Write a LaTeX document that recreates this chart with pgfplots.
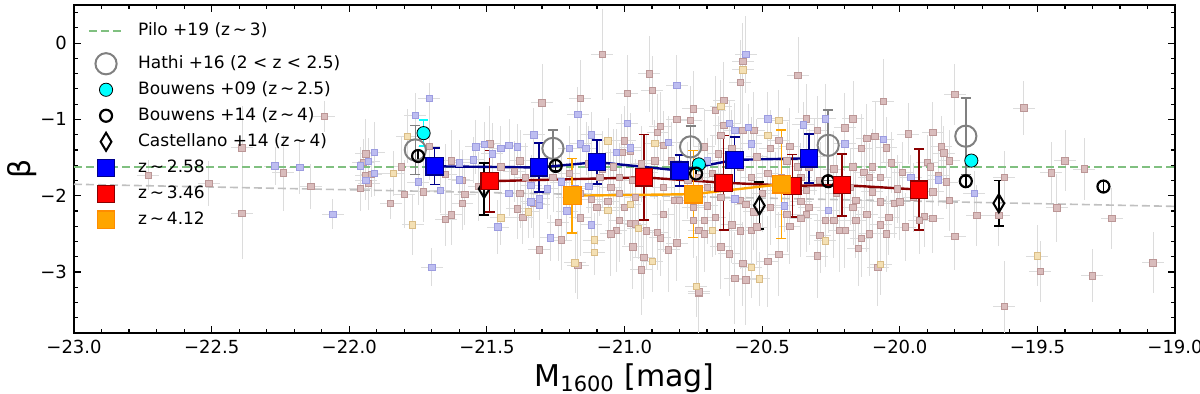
\documentclass[border=0pt]{standalone}
\usepackage{fontspec}
\setmainfont{DejaVu Sans}
\usepackage{pgfplots}
\usepackage{pgfplotstable}
\pgfplotsset{compat=1.18}

\definecolor{sblue}{HTML}{BDBDF0}
\definecolor{sblueedge}{HTML}{9C9CE0}
\definecolor{srose}{HTML}{D9BCBC}
\definecolor{sroseedge}{HTML}{BB9696}
\definecolor{stan}{HTML}{F4E0B4}
\definecolor{stanedge}{HTML}{D9BC86}
\definecolor{errgray}{HTML}{DCDCDC}
\definecolor{pilogreen}{HTML}{80C080}
\definecolor{fitgray}{HTML}{C0C0C0}
\definecolor{binblue}{HTML}{0000FF}
\definecolor{binnavy}{HTML}{00008B}
\definecolor{binred}{HTML}{FF0000}
\definecolor{bindarkred}{HTML}{8B0000}
\definecolor{binorange}{HTML}{FFA500}
\definecolor{bindarkorange}{HTML}{FF8C00}
\definecolor{hathigray}{HTML}{808080}
\definecolor{bcyan}{HTML}{00FFFF}

\pgfplotsset{
  legmark/.style={legend image code/.code={\path[draw=none, fill=none] (0cm,-5.5pt) rectangle (0.6cm,5.5pt); \draw[##1] plot coordinates {(0.3cm,0cm)};}},
  legline/.style={legend image code/.code={\path[draw=none, fill=none] (0cm,-9pt) rectangle (0.6cm,5.5pt); \draw[##1] (0cm,0cm) -- (0.6cm,0cm);}},
  scat/.style={only marks, mark=square*, mark size=1.6pt, forget plot,
    error bars/y dir=both, error bars/y explicit, error bars/x dir=both, error bars/x fixed=0.04,
    error bars/error mark=none, error bars/error bar style={color=errgray, line width=0.4pt}},
}

% background galaxies: M1600, beta, error
\pgfplotstableread{
M b e
-22.27 -1.61 0.25
-22.18 -1.63 0.35
-22.06 -2.24 0.20
-21.96 -1.61 0.25
-21.91 -1.43 0.40
-21.93 -1.55 0.30
-21.94 -1.80 0.25
-21.91 -1.71 0.30
-21.71 -0.72 0.20
-21.76 -0.95 0.30
-21.75 -1.82 0.30
-21.67 -1.93 0.30
-21.70 -2.94 0.25
-21.60 -1.57 0.30
-21.60 -1.79 0.35
-21.55 -1.53 0.30
-21.54 -1.36 0.35
-21.51 -1.33 0.30
-21.48 -1.45 0.40
-21.45 -1.38 0.30
-21.42 -1.34 0.35
-21.39 -1.36 0.30
-21.42 -1.97 0.30
-21.46 -2.41 0.35
-21.34 -1.86 0.40
-21.34 -2.08 0.35
-21.31 -2.12 0.30
-21.31 -2.04 0.35
-21.33 -1.20 0.35
-21.28 -1.91 0.40
-21.27 -2.55 0.30
-21.21 -2.20 0.40
-21.23 -1.82 0.35
-21.20 -1.38 0.30
-21.17 -0.93 0.35
-21.18 -1.91 0.40
-21.16 -1.32 0.30
-21.14 -1.38 0.35
-21.12 -1.20 0.30
-21.13 -1.88 0.35
-21.12 -2.38 0.40
-21.03 -1.43 0.30
-20.99 -1.05 0.35
-20.98 -1.37 0.30
-20.84 -1.30 0.35
-20.81 -0.55 0.40
-20.56 -0.15 0.50
-20.62 -1.05 0.30
-20.60 -1.14 0.35
-20.55 -1.10 0.30
-20.48 -0.99 0.35
-20.35 -1.07 0.30
-20.27 -0.99 0.45
-20.06 -1.26 0.30
-20.20 -1.32 0.35
-19.96 -1.76 0.30
-19.86 -1.79 0.30
-19.73 -1.97 0.30
-20.60 -2.04 0.35
-20.42 -2.13 0.35
-20.26 -2.19 0.30
-20.70 -1.54 0.30
-20.54 -1.32 0.35
}\scatblue

\pgfplotstableread{
M b e
-21.84 -1.71 0.30
-21.79 -1.22 0.35
-21.77 -2.38 0.40
-21.45 -2.29 0.35
-21.35 -2.21 0.35
-21.18 -2.88 0.40
-21.11 -2.58 0.35
-21.11 -2.74 0.30
-21.06 -1.28 0.30
-21.06 -2.19 0.35
-20.98 -2.11 0.35
-20.95 -2.43 0.40
-20.90 -2.86 0.40
-20.89 -1.31 0.30
-20.74 -3.19 0.40
-20.57 -0.35 0.40
-20.65 -0.83 0.35
-20.44 -1.01 0.40
-20.48 -1.21 0.35
-20.07 -2.90 0.40
-20.27 -2.59 0.35
-20.54 -2.94 0.40
-20.51 -3.09 0.35
-20.68 -2.45 0.35
-19.50 -2.79 0.40
}\scattan

\pgfplotstableread{
M b e
-22.73 -1.73 0.20
-22.51 -1.84 0.30
-22.39 -1.37 0.55
-22.39 -2.23 0.60
-22.24 -1.70 0.50
-22.14 -1.88 0.30
-22.09 -0.96 0.20
-21.95 -1.56 0.30
-21.94 -1.45 0.45
-21.94 -1.73 0.30
-21.92 -1.72 0.30
-21.93 -1.84 0.35
-21.96 -1.90 0.30
-21.85 -2.10 0.20
-21.81 -1.62 0.40
-21.80 -1.98 0.45
-21.73 -1.95 0.40
-21.71 -1.35 0.45
-21.65 -1.72 0.40
-21.65 -2.31 0.35
-21.63 -2.25 0.40
-21.59 -2.10 0.35
-21.58 -1.98 0.40
-21.53 -1.88 0.45
-21.49 -1.32 0.50
-21.40 -1.68 0.40
-21.38 -1.97 0.45
-21.39 -2.17 0.40
-21.37 -2.28 0.35
-21.33 -2.10 0.45
-21.30 -0.78 0.50
-21.31 -2.71 0.40
-21.24 -2.35 0.50
-21.23 -2.58 0.40
-21.20 -1.71 0.45
-21.16 -0.72 0.50
-21.17 -2.91 0.45
-21.16 -2.29 0.50
-21.13 -1.58 0.50
-21.12 -2.05 0.50
-21.08 -0.15 0.60
-21.08 -1.65 0.50
-21.06 -2.07 0.50
-21.03 -2.45 0.55
-21.01 -1.43 0.50
-21.00 -1.28 0.45
-20.99 -0.66 0.50
-20.98 -1.41 0.50
-20.98 -2.36 0.50
-20.96 -2.37 0.45
-20.94 -2.97 0.60
-20.93 -2.81 0.55
-20.92 -2.46 0.50
-20.91 -0.40 0.50
-20.90 -0.62 0.45
-20.88 -1.17 0.50
-20.87 -1.09 0.45
-20.87 -2.55 0.50
-20.88 -2.48 0.50
-20.86 -1.34 0.45
-20.81 -1.00 0.50
-20.84 -2.71 0.55
-20.81 -2.62 0.50
-20.76 -1.01 0.45
-20.75 -0.86 0.50
-20.73 -3.28 0.60
-20.73 -2.45 0.50
-20.71 -2.50 0.50
-20.57 -0.24 0.50
-20.58 -0.51 0.55
-20.37 -0.42 0.50
-20.64 -0.75 0.50
-20.67 -0.88 0.45
-20.64 -1.08 0.50
-20.57 -1.14 0.45
-20.53 -1.14 0.50
-20.34 -0.99 0.45
-20.40 -1.35 0.50
-20.30 -1.14 0.45
-20.20 -1.11 0.45
-20.17 -0.99 0.50
-20.06 -0.76 0.55
-20.12 -1.25 0.45
-20.09 -1.22 0.45
-20.05 -1.37 0.40
-20.14 -1.38 0.45
-19.97 -1.19 0.40
-19.88 -1.17 0.40
-19.85 -1.36 0.40
-19.84 -1.44 0.35
-19.80 -0.67 0.40
-19.55 -0.85 0.35
-19.90 -1.56 0.35
-20.03 -1.57 0.40
-19.99 -1.69 0.40
-19.86 -1.73 0.40
-19.83 -1.82 0.35
-19.82 -2.06 0.40
-19.88 -1.95 0.40
-19.72 -2.26 0.40
-19.80 -2.53 0.45
-19.62 -1.76 0.35
-19.62 -3.45 0.60
-19.88 -2.30 0.45
-19.91 -2.27 0.40
-19.98 -2.41 0.45
-20.04 -2.28 0.50
-20.07 -2.38 0.50
-20.07 -2.08 0.50
-20.02 -2.10 0.45
-20.00 -2.08 0.50
-20.10 -1.95 0.50
-20.13 -1.69 0.50
-20.11 -1.76 0.45
-20.08 -2.94 0.50
-20.05 -2.50 0.50
-20.14 -2.56 0.50
-20.15 -2.69 0.50
-20.17 -2.15 0.50
-20.16 -2.06 0.50
-20.20 -2.45 0.50
-20.22 -2.45 0.55
-20.24 -2.32 0.50
-20.27 -2.32 0.50
-20.29 -2.52 0.50
-20.30 -2.79 0.55
-20.33 -2.15 0.50
-20.34 -2.24 0.50
-20.36 -2.30 0.50
-20.40 -2.40 0.50
-20.41 -2.24 0.50
-20.44 -2.77 0.55
-20.48 -2.86 0.60
-20.54 -2.45 0.50
-20.53 -2.21 0.50
-20.56 -3.10 0.60
-20.60 -3.08 0.60
-20.57 -2.89 0.55
-20.58 -2.46 0.50
-20.61 -2.38 0.50
-20.67 -2.28 0.50
-20.70 -2.13 0.50
-20.65 -2.02 0.50
-20.58 -2.06 0.50
-20.56 -2.11 0.50
-20.36 -2.07 0.50
-20.45 -1.93 0.50
-20.48 -1.71 0.50
-20.54 -1.76 0.50
-20.68 -1.71 0.50
-20.70 -1.89 0.50
-20.66 -1.45 0.50
-20.61 -1.38 0.50
-20.47 -1.38 0.50
-20.44 -1.27 0.50
-20.41 -1.54 0.50
-20.33 -1.62 0.50
-20.31 -1.49 0.50
-20.17 -1.62 0.50
-20.10 -1.62 0.50
-20.07 -1.76 0.50
-20.73 -3.26 0.60
-21.04 -1.62 0.50
-21.02 -1.76 0.45
-20.97 -1.80 0.50
-20.92 -1.69 0.50
-20.86 -1.89 0.45
-20.82 -2.06 0.50
-20.77 -1.80 0.50
-20.73 -1.76 0.45
-20.96 -2.02 0.50
-21.00 -2.15 0.50
-20.86 -2.24 0.50
-20.75 -2.15 0.50
-20.71 -1.36 0.50
-20.65 -1.21 0.45
-20.58 -1.62 0.50
-20.52 -1.49 0.50
-20.50 -1.97 0.50
-20.47 -2.15 0.50
-20.43 -1.76 0.50
-20.37 -1.62 0.50
-20.36 -1.76 0.45
-20.34 -1.93 0.50
-20.29 -1.80 0.50
-20.24 -1.65 0.50
-20.23 -1.97 0.50
-20.18 -1.89 0.50
-20.16 -2.32 0.50
-20.12 -2.24 0.50
-20.11 -2.50 0.55
-20.01 -1.91 0.45
-19.95 -2.02 0.45
-19.93 -2.32 0.45
-19.89 -1.62 0.40
-19.82 -1.54 0.40
-20.52 -2.41 0.50
-20.65 -2.67 0.55
-20.62 -2.76 0.55
-20.71 -2.32 0.50
-21.09 -1.76 0.50
-21.05 -1.89 0.50
-21.02 -1.97 0.50
-21.10 -2.15 0.50
-21.16 -1.97 0.45
-21.21 -2.02 0.45
-21.26 -1.76 0.45
-21.36 -1.76 0.45
-21.38 -1.54 0.40
-21.45 -1.62 0.40
-21.59 -1.80 0.40
-21.63 -1.54 0.40
-20.94 -1.58 0.50
-20.89 -1.54 0.50
-20.83 -1.54 0.50
-20.80 -2.06 0.50
-20.75 -2.32 0.50
-21.02 -2.32 0.55
-21.05 -2.50 0.55
-20.97 -2.67 0.55
-19.40 -1.54 0.40
-19.45 -1.70 0.40
-19.33 -1.65 0.40
-19.43 -2.16 0.45
-19.23 -2.30 0.40
-19.49 -2.99 0.40
-19.30 -3.05 0.35
-19.08 -2.88 0.40
-19.64 -2.26 0.40
}\scatrose

\begin{document}
\begin{tikzpicture}
\begin{axis}[
  scale only axis,
  width=550.5pt, height=164pt,
  xmin=-23, xmax=-19, ymin=-3.8, ymax=0.5,
  xtick={-23,-22.5,...,-19},
  xticklabels={−23.0,−22.5,−22.0,−21.5,−21.0,−20.5,−20.0,−19.5,−19.0},
  minor x tick num=4,
  ytick={0,-1,-2,-3},
  yticklabels={0,−1,−2,−3},
  minor ytick={-3.8,-3.6,...,0.41},
  tick align=inside,
  major tick length=3.5pt, minor tick length=2pt,
  tick style={black, line width=0.6pt},
  axis line style={line width=0.8pt},
  tick label style={font=\fontsize{9}{10}\selectfont},
  xlabel={M\textsubscript{1600} [mag]},
  ylabel={β},
  xlabel style={font=\fontsize{15}{17}\selectfont, at={(axis description cs:0.5,-0.137)}, anchor=center},
  ylabel style={font=\fontsize{15}{17}\selectfont, at={(axis description cs:-0.047,0.5)}, anchor=center},
  legend style={draw=none, fill=none, inner sep=0pt, outer sep=0pt,
    at={(axis description cs:0.0127,0.955)}, anchor=north west,
    font=\fontsize{8.5}{10}\selectfont, row sep=2pt, column sep=7pt,
    nodes={inner sep=0pt}},
  legend cell align=left,
]
% background galaxies
\addplot[scat, mark options={fill=srose, draw=sroseedge, line width=0.3pt}] table[x=M, y=b, y error=e] {\scatrose};
\addplot[scat, mark options={fill=sblue, draw=sblueedge, line width=0.3pt}] table[x=M, y=b, y error=e] {\scatblue};
\addplot[scat, mark options={fill=stan, draw=stanedge, line width=0.3pt}] table[x=M, y=b, y error=e] {\scattan};

% unlabelled fit
\addplot[forget plot, color=fitgray, line width=0.8pt, dash pattern=on 4pt off 2pt] coordinates {(-23,-1.85) (-19,-2.14)};

\addplot[legline, color=pilogreen, line width=1pt, dash pattern=on 4pt off 2pt] coordinates {(-23,-1.63) (-19,-1.63)};
\addlegendentry{Pilo +19 (z\,∼\,3)}

\addplot[legmark, only marks, color=hathigray, mark=o, mark size=5.3pt, mark options={line width=1pt},
  error bars/.cd, y dir=both, y explicit, error bar style={color=hathigray, line width=0.8pt},
  error mark options={rotate=90, color=hathigray, mark size=2.5pt, line width=0.8pt}]
  table[x=M, y=b, y error=e] {
M b e
-21.76 -1.40 0.32
-21.26 -1.38 0.24
-20.76 -1.36 0.27
-20.26 -1.34 0.46
-19.76 -1.22 0.50
};
\addlegendentry{Hathi +16 (2 < z < 2.5)}

\addplot[legmark, only marks, color=black, mark=*, mark size=3.3pt, mark options={fill=bcyan, draw=black, line width=0.4pt},
  error bars/.cd, y dir=both, y explicit, error bar style={color=bcyan, line width=0.8pt},
  error mark options={rotate=90, color=bcyan, mark size=2.2pt, line width=0.8pt}]
  table[x=M, y=b, y error=e] {
M b e
-21.73 -1.18 0.17
-20.73 -1.59 0.0
-19.74 -1.54 0.0
};
\addlegendentry{Bouwens +09 (z\,∼\,2.5)}

\addplot[legmark, only marks, color=black, mark=o, mark size=3pt, mark options={line width=1.1pt},
  error bars/.cd, y dir=both, y explicit, error bar style={color=black, line width=0.8pt},
  error mark options={rotate=90, color=black, mark size=1.5pt, line width=0.8pt}]
  table[x=M, y=b, y error=e] {
M b e
-21.75 -1.48 0.07
-21.25 -1.61 0.07
-20.74 -1.71 0.07
-20.26 -1.81 0.07
-19.76 -1.81 0.07
-19.26 -1.88 0.07
};
\addlegendentry{Bouwens +14 (z\,∼\,4)}

\addplot[legmark, only marks, color=black, mark=diamond, mark size=4.5pt, mark options={xscale=0.8, line width=1pt},
  error bars/.cd, y dir=both, y explicit, error bar style={color=black, line width=0.8pt},
  error mark options={rotate=90, color=black, mark size=2.5pt, line width=0.8pt}]
  table[x=M, y=b, y error=e] {
M b e
-21.51 -1.91 0.34
-20.51 -2.13 0.31
-19.64 -2.10 0.30
};
\addlegendentry{Castellano +14 (z\,∼\,4)}

\addplot[legmark, color=binnavy, line width=1.2pt, mark=square*, mark size=4.3pt,
  mark options={fill=binblue, draw=binnavy, line width=0.6pt},
  error bars/.cd, y dir=both, y explicit, error bar style={color=binnavy, line width=0.8pt},
  error mark options={rotate=90, color=binnavy, mark size=2.5pt, line width=0.8pt}]
  table[x=M, y=b, y error=e] {
M b e
-21.69 -1.615 0.24
-21.31 -1.63 0.32
-21.10 -1.56 0.29
-20.80 -1.67 0.20
-20.60 -1.53 0.30
-20.33 -1.51 0.32
};
\addlegendentry{z\,∼\,2.58}

\addplot[legmark, color=bindarkred, line width=1.2pt, mark=square*, mark size=4.3pt,
  mark options={fill=binred, draw=bindarkred, line width=0.6pt},
  error bars/.cd, y dir=both, y explicit, error bar style={color=bindarkred, line width=0.8pt},
  error mark options={rotate=90, color=bindarkred, mark size=2.5pt, line width=0.8pt}]
  table[x=M, y=b, y error=e] {
M b e
-21.49 -1.81 0.40
-20.93 -1.76 0.56
-20.64 -1.83 0.62
-20.39 -1.87 0.41
-20.21 -1.86 0.41
-19.93 -1.92 0.53
};
\addlegendentry{z\,∼\,3.46}

\addplot[legmark, color=binorange, line width=1.2pt, mark=square*, mark size=4.4pt,
  mark options={fill=binorange, draw=bindarkorange, line width=0.6pt},
  error bars/.cd, y dir=both, y explicit, error bar style={color=binorange, line width=0.8pt},
  error mark options={rotate=90, color=binorange, mark size=2.5pt, line width=0.8pt}]
  table[x=M, y=b, y error=e] {
M b e
-21.19 -2.00 0.49
-20.75 -1.98 0.57
-20.43 -1.85 0.71
};
\addlegendentry{z\,∼\,4.12}
\end{axis}
\pgfresetboundingbox
\path[use as bounding box] ([shift={(-37pt,-30.5pt)}]current axis.south west) rectangle ([shift={(12.5pt,2.5pt)}]current axis.north east);
\end{tikzpicture}
\end{document}
